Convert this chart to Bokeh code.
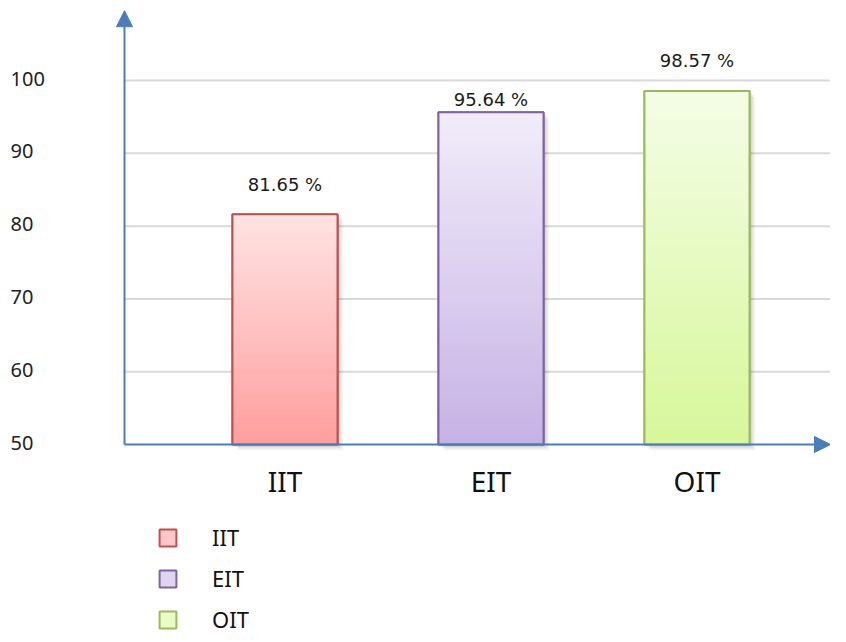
from bokeh.plotting import figure
from bokeh.models import (Range1d, ColumnDataSource, Arrow, NormalHead,
                          Legend, LegendItem)
from bokeh.embed import file_html
from bokeh.resources import INLINE
from bokeh.core.properties import value

# ---- data ----
categories = ["IIT", "EIT", "OIT"]
values = [81.65, 95.64, 98.57]
y_ticks = [50, 60, 70, 80, 90, 100]
y_base = 50

# ---- styling ----
colors_top = ["#ffe3e3", "#f1ecf9", "#f4fde6"]
colors_bottom = ["#ff9e9e", "#c6b2e5", "#d7f79a"]
colors_mid = ["#ffc8c8", "#e0d5f1", "#e9fbc6"]
colors_line = ["#c0504d", "#8064a2", "#9bbb59"]
label_offsets = [-30, -13, -30]
blue = "#4a7ebb"
FONT = "Noto Sans"

# view window (frame covers the whole canvas)
x_view = (-1.3811, 2.6481)
y_view = (23.9, 111.0)
axis_x = -0.7791          # where the vertical axis sits
arrow_top = 109.6
bar_w = 0.51

p = figure(width=830, height=634, x_range=Range1d(*x_view), y_range=Range1d(*y_view),
           output_backend="svg", toolbar_location=None,
           min_border_left=0, min_border_right=0, min_border_top=0, min_border_bottom=0)
p.outline_line_color = None
p.background_fill_color = "white"
p.border_fill_color = "white"
p.axis.visible = False
p.grid.visible = False

xs = list(range(len(categories)))

# grid lines
grid_y = [t for t in y_ticks if t != y_base]
p.segment(x0=[axis_x] * len(grid_y), y0=grid_y, x1=[x_view[1]] * len(grid_y), y1=grid_y,
          line_color="#d9d9d9", line_width=2)

# y tick labels
p.text(x=[axis_x] * len(y_ticks), y=y_ticks, text=[str(t) for t in y_ticks],
       x_offset=-114, y_offset=-2, text_align="left", text_baseline="middle",
       text_font=value(FONT), text_font_size="20px", text_color="#222222")

# category labels
p.text(x=xs, y=[y_base] * len(xs), text=categories, y_offset=36,
       text_align="center", text_baseline="middle",
       text_font=value(FONT), text_font_size="28px", text_color="#111111")


def hex_rgb(h):
    h = h.lstrip("#")
    return [int(h[i:i + 2], 16) for i in (0, 2, 4)]


# soft shadows
for dpx, alpha in [(2, 0.10), (4, 0.07), (6, 0.04)]:
    dx = dpx / 206.0
    dy = dpx / 7.28
    p.vbar(x=[i + dx for i in xs], top=[v - dy for v in values], bottom=y_base - dy,
           width=bar_w, fill_color="black", fill_alpha=alpha, line_color=None)

# base bars (used by legend)
base_src = ColumnDataSource(dict(x=xs, top=values, fill=colors_mid, line=colors_line,
                                 cat=categories))
base = p.vbar(x="x", top="top", bottom=y_base, width=bar_w, source=base_src,
              fill_color="fill", line_color="line", line_width=2)

# gradient slices
N = 60
gx, gt, gb, gc = [], [], [], []
for i, v in enumerate(values):
    c0 = hex_rgb(colors_bottom[i])
    c1 = hex_rgb(colors_top[i])
    for k in range(N):
        t = (k + 0.5) / N
        col = "#%02x%02x%02x" % tuple(int(round(c0[j] * (1 - t) + c1[j] * t)) for j in range(3))
        gx.append(i)
        gb.append(y_base + (v - y_base) * k / N)
        gt.append(y_base + (v - y_base) * (k + 1) / N)
        gc.append(col)
grad_src = ColumnDataSource(dict(x=gx, top=gt, bottom=gb, c=gc))
p.vbar(x="x", top="top", bottom="bottom", width=bar_w, source=grad_src,
       fill_color="c", line_color="c", line_width=1)

# outlines
p.vbar(x="x", top="top", bottom=y_base, width=bar_w, source=base_src,
       fill_color=None, line_color="line", line_width=2)

# value labels
lab_src = ColumnDataSource(dict(x=xs, y=values, t=[f"{v:.2f} %" for v in values],
                                off=label_offsets))
p.text(x="x", y="y", text="t", y_offset="off", source=lab_src,
       text_align="center", text_baseline="middle",
       text_font=value("DejaVu Sans"), text_font_size="18px", text_color="#1a1a1a")

# axis arrows
p.add_layout(Arrow(end=NormalHead(size=16, fill_color=blue, line_color=blue),
                   x_start=axis_x, y_start=y_base, x_end=axis_x, y_end=arrow_top,
                   line_color=blue, line_width=2))
p.add_layout(Arrow(end=NormalHead(size=16, fill_color=blue, line_color=blue),
                   x_start=axis_x, y_start=y_base, x_end=x_view[1], y_end=y_base,
                   line_color=blue, line_width=2))

# legend
items = [LegendItem(label=c, renderers=[base], index=i) for i, c in enumerate(categories)]
legend = Legend(items=items, location=(157, 0), orientation="vertical",
                glyph_width=21, glyph_height=21, label_standoff=34, spacing=11,
                padding=0, margin=0, border_line_color=None, background_fill_alpha=0,
                label_text_font=FONT, label_text_font_size="22px",
                label_text_color="#111111")
p.add_layout(legend)

open("out.html", "w").write(file_html(p, INLINE))
